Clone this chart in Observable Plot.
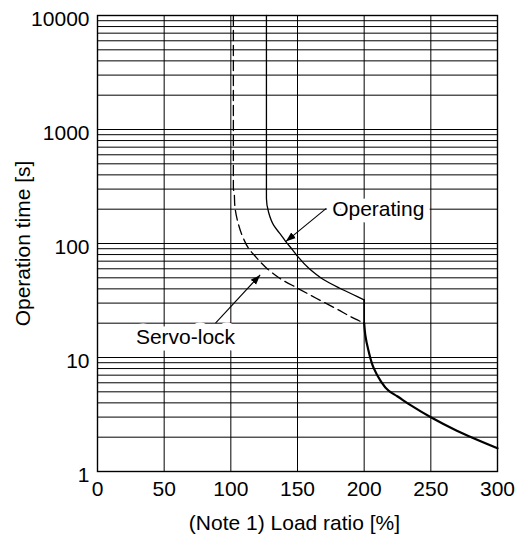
<!DOCTYPE html>
<html><head><meta charset="utf-8">
<script src="https://cdn.jsdelivr.net/npm/d3@7"></script>
<script src="https://cdn.jsdelivr.net/npm/@observablehq/plot@0.6"></script>
<style>body{margin:0;background:#fff}</style>
</head><body><div id="chart"></div>
<script>
const xTicks = [0, 50, 100, 150, 200, 250, 300];
const yTicks = [1, 10, 100, 1000, 10000];
const yGrid = [2, 3, 4, 5, 6, 7, 8, 9, 10, 20, 30, 40, 50, 60, 70, 80, 90, 100,
  200, 300, 400, 500, 600, 700, 800, 900, 1000, 2000, 3000, 4000, 5000, 6000, 7000, 8000, 9000, 10000];
const xGrid = [50, 100, 150, 200, 250];

// Operating (solid): vertical part, then curve down to 200 %
const operatingLoad = [126.7, 126.7, 128.4, 132.2, 137.3, 141.2, 146.3, 150.1, 158.9, 169.1, 181.8, 194.5, 200];
const operatingTime = [10000, 248, 186, 144, 120, 104, 88, 77, 60, 48.6, 40.5, 34.4, 32];
// Operating drop at 200 %
const dropLoad = [200, 200];
const dropTime = [32, 20];
// Shared tail of both curves beyond 200 %
const tailLoad = [200, 200.8, 203.3, 207.1, 212.1, 218.5, 224.8, 234.8, 250, 269.5, 300];
const tailTime = [20, 15.9, 11.4, 8.1, 6.3, 5.1, 4.57, 3.82, 2.99, 2.28, 1.6];
// Servo-lock (dashed)
const servoLoad = [101.9, 101.9, 102.5, 103, 105.6, 109.4, 113.2, 118.3, 125.9, 136.1, 150.1, 164, 179.3, 193.2, 200];
const servoTime = [10000, 300, 283, 214, 149, 111, 91, 77.3, 62.3, 50, 40.5, 33.1, 26.7, 21.8, 20];

const labelNames = ["Operating", "Servo-lock"];
const labelX = [176, 66];
const labelY = [200, 15];
const labelAnchor = ["start", "middle"];
const arrowFromX = [171.6, 88.5];
const arrowFromY = [203, 20];
const arrowToX = [141.2, 122];
const arrowToY = [104, 53];

const pts = (xs, ys) => xs.map((x, i) => ({x, y: ys[i]}));
const labels = labelNames.map((t, i) => ({t, x: labelX[i], y: labelY[i], a: labelAnchor[i]}));
const arrows = arrowFromX.map((x1, i) => ({x1, y1: arrowFromY[i], x2: arrowToX[i], y2: arrowToY[i]}));

const font = "Liberation Sans, Arial, Helvetica, sans-serif";

const chart = Plot.plot({
  width: 519,
  height: 543,
  marginLeft: 97,
  marginRight: 22,
  marginTop: 15,
  marginBottom: 72,
  style: {fontFamily: font, fontSize: "21px", color: "black", background: "white"},
  x: {domain: [0, 300]},
  y: {type: "log", domain: [1, 10000]},
  marks: [
    Plot.ruleY(yGrid, {stroke: "black", strokeWidth: 1}),
    Plot.ruleX(xGrid, {stroke: "black", strokeWidth: 1}),
    Plot.line(pts(operatingLoad, operatingTime), {x: "x", y: "y", stroke: "black", strokeWidth: 1.3, curve: "monotone-y"}),
    Plot.line(pts(dropLoad, dropTime), {x: "x", y: "y", stroke: "black", strokeWidth: 1.7}),
    Plot.line(pts(servoLoad, servoTime), {x: "x", y: "y", stroke: "black", strokeWidth: 1.3, strokeDasharray: "10,5", curve: "monotone-y"}),
    Plot.line(pts(tailLoad, tailTime), {x: "x", y: "y", stroke: "black", strokeWidth: 2.2, curve: "monotone-y"}),
    Plot.text(labels.filter(d => d.a === "start"), {x: "x", y: "y", text: "t", textAnchor: "start", fontSize: 21, fill: "black", stroke: "white", strokeWidth: 13, strokeLinejoin: "round", paintOrder: "stroke"}),
    Plot.text(labels.filter(d => d.a === "middle"), {x: "x", y: "y", text: "t", textAnchor: "middle", fontSize: 21, fill: "black", stroke: "white", strokeWidth: 13, strokeLinejoin: "round", paintOrder: "stroke"}),
    Plot.link(arrows, {x1: "x1", y1: "y1", x2: "x2", y2: "y2", stroke: "black", strokeWidth: 1.1, markerEnd: "arrow"}),
    Plot.frame({stroke: "black", strokeWidth: 1.4}),
    Plot.axisY(yTicks, {tickSize: 0, tickPadding: 8, fontSize: 21, dy: 4, label: null, tickFormat: d => `${d}`}),
    Plot.axisX(xTicks, {tickSize: 0, tickPadding: 10, fontSize: 21, label: null, tickFormat: d => `${d}`}),
    Plot.text(["Operation time [s]"], {frameAnchor: "left", dx: -74, rotate: -90, fontSize: 21, textAnchor: "middle", lineAnchor: "middle"}),
    Plot.text(["(Note 1) Load ratio [%]"], {frameAnchor: "bottom", dy: 52, dx: -3, fontSize: 21, textAnchor: "middle", lineAnchor: "middle"})
  ]
});

// filled triangular arrowheads
chart.querySelectorAll("marker").forEach(m => {
  m.setAttribute("viewBox", "-10 -4 10 8");
  m.setAttribute("markerWidth", "10");
  m.setAttribute("markerHeight", "8");
  m.setAttribute("markerUnits", "userSpaceOnUse");
  m.setAttribute("fill", "black");
  m.setAttribute("stroke", "none");
  m.querySelectorAll("path").forEach(p => p.setAttribute("d", "M-10,-3.6L0,0L-10,3.6Z"));
});

document.getElementById("chart").appendChild(chart);
</script>
</body></html>
